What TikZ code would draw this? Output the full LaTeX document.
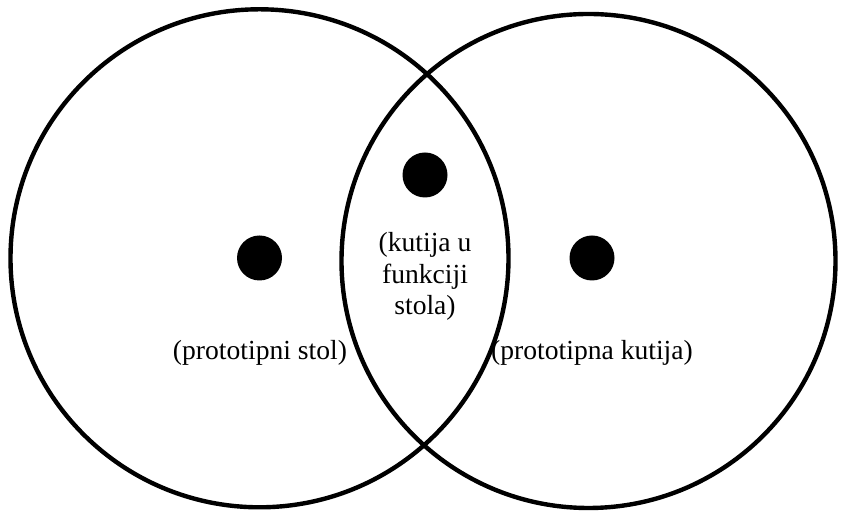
\documentclass[tikz,border=0pt]{standalone}
\usepackage{fontspec}
\setmainfont{Liberation Serif}
\tikzset{
  ring/.style={draw=black, line width=4.4pt},
  dotmark/.style={circle, fill=black, inner sep=0pt, minimum size=45pt},
  lbl/.style={inner sep=0pt, font=\fontsize{27.6pt}{31.5pt}\selectfont, align=center}
}
\begin{document}
\begin{tikzpicture}[x=1pt,y=1pt]
\useasboundingbox (0,0) rectangle (855,513);
\draw[ring] (259.5,254.7) circle[radius=249];
\draw[ring] (588.5,252) circle[radius=247];
\node[dotmark] (dl) at (259.5,255) {};
\node[dotmark] (dm) at (425,338) {};
\node[dotmark] (dr) at (592,255) {};
\node[lbl, anchor=base] (tl) at (260,153) {(prototipni stol)};
\node[lbl, anchor=base] (tr) at (592,153) {(prototipna kutija)};
\node[lbl, anchor=center] (tm) at (425,236.5) {(kutija u\\funkciji\\stola)};
\end{tikzpicture}
\end{document}
